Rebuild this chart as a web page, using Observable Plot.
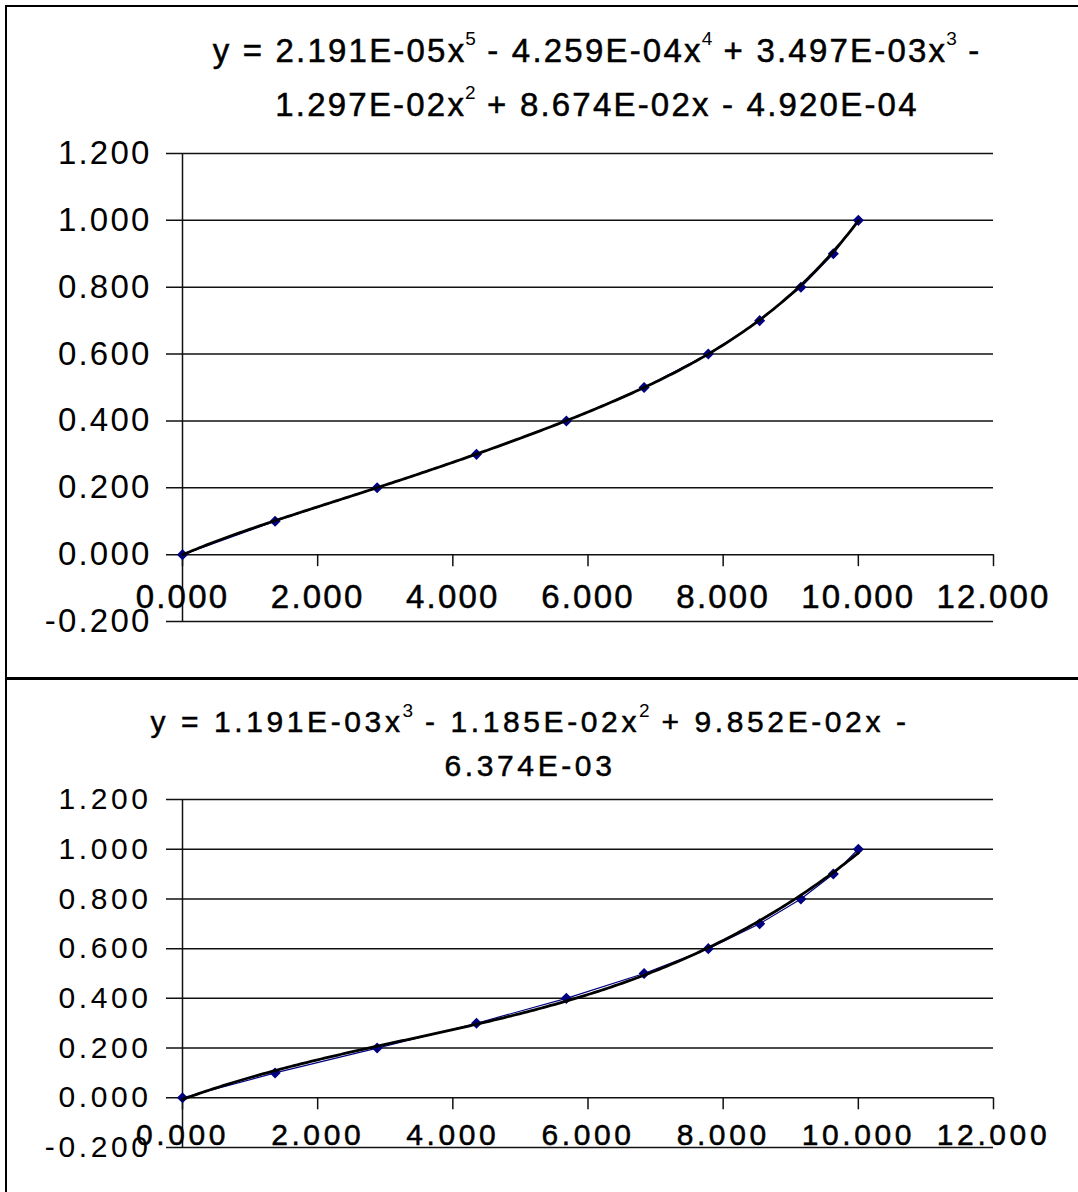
<!DOCTYPE html>
<html>
<head>
<meta charset="utf-8">
<script src="https://cdn.jsdelivr.net/npm/d3@7"></script>
<script src="https://cdn.jsdelivr.net/npm/@observablehq/plot@0.6"></script>
<style>
  html, body { margin: 0; padding: 0; background: #fff; }
  #page { position: relative; width: 1078px; height: 1192px; overflow: hidden; background: #fff; }
  .frame { position: absolute; background: #000; }
  .eq { position: absolute; text-align: center; font-family: "Liberation Sans", Arial, sans-serif; color: #000; white-space: nowrap; -webkit-text-stroke: 0.5px #000; }
  .eq sup { font-size: 19px; position: relative; vertical-align: 0; line-height: 0; letter-spacing: 0; -webkit-text-stroke: 0; margin-left: -1px; }
  .chart { position: absolute; left: 0; }
</style>
</head>
<body>
<div id="page">
  <div class="frame" style="left:5px; top:5px; width:1073px; height:2px;"></div>
  <div class="frame" style="left:5px; top:5px; width:2px; height:1187px;"></div>
  <div class="frame" style="left:5px; top:677px; width:1073px; height:3px;"></div>
  <div id="eq1" class="eq"></div>
  <div id="eq2" class="eq"></div>
  <div id="c1" class="chart" style="top:0px;"></div>
  <div id="c2" class="chart" style="top:680px;"></div>
</div>
<script>
// ---- data ----
const xValues = [0, 1.37, 2.88, 4.35, 5.68, 6.83, 7.78, 8.54, 9.15, 9.63, 10.0];
const yValues = [0, 0.1, 0.2, 0.3, 0.4, 0.5, 0.6, 0.7, 0.8, 0.9, 1.0];
const xTicks = [0, 2, 4, 6, 8, 10, 12];
const yTicks = [-0.2, 0, 0.2, 0.4, 0.6, 0.8, 1.0, 1.2];
// trendline coefficients (highest power first), as printed on the chart
const coefTop = [2.191e-05, -4.259e-04, 3.497e-03, -1.297e-02, 8.674e-02, -4.920e-04];
const coefBottom = [1.191e-03, -1.185e-02, 9.852e-02, -6.374e-03];
const eqTopLines = [
  'y = 2.191E-05x<sup style="top:-17px">5</sup> - 4.259E-04x<sup style="top:-17px">4</sup> + 3.497E-03x<sup style="top:-17px">3</sup> -',
  '1.297E-02x<sup style="top:-17px">2</sup> + 8.674E-02x - 4.920E-04'
];
const eqBottomLines = [
  'y = 1.191E-03x<sup style="top:-15px">3</sup> - 1.185E-02x<sup style="top:-15px">2</sup> + 9.852E-02x -',
  '6.374E-03'
];

const points = xValues.map((x, i) => ({x, y: yValues[i]}));
const fmt = d => d.toFixed(3);
const polyval = (c, x) => c.reduce((acc, k) => acc * x + k, 0);
const trend = c => d3.range(0, 10.0001, 0.05).map(x => ({x, y: polyval(c, x)}));

function makeChart({height, marginTop, marginBottom, coef, fontSize, letterSpacing, labelDy}) {
  return Plot.plot({
    width: 1078,
    height,
    marginLeft: 182,
    marginRight: 85,
    marginTop,
    marginBottom,
    style: {
      fontFamily: '"Liberation Sans", Arial, sans-serif',
      fontSize: fontSize + "px",
      letterSpacing: letterSpacing + "px",
      background: "transparent",
      color: "#000",
      overflow: "visible"
    },
    x: {domain: [0, 12], axis: null},
    y: {domain: [-0.2, 1.2], axis: null},
    marks: [
      Plot.ruleY(yTicks, {y: d => d, stroke: "#111", strokeWidth: 1.5, insetLeft: -16}),
      Plot.ruleX([0], {stroke: "#111", strokeWidth: 1.5}),
      Plot.ruleX(xTicks, {x: d => d, y1: () => 0, y2: () => 0, insetBottom: -12, stroke: "#111", strokeWidth: 1.5}),
      Plot.axisY(yTicks, {tickSize: 0, tickPadding: 31, tickFormat: fmt, fontSize, fill: "#000", stroke: "#000", strokeWidth: 0.5, label: null}),
      Plot.text(xTicks, {x: d => d, frameAnchor: "bottom", dy: labelDy, text: fmt, fontSize, fill: "#000", stroke: "#000", strokeWidth: 0.5}),
      Plot.line(points, {x: "x", y: "y", stroke: "#000080", strokeWidth: 1.2}),
      Plot.dot(points, {x: "x", y: "y", symbol: "diamond2", r: 5, fill: "#000080", stroke: "none"}),
      Plot.line(trend(coef), {x: "x", y: "y", stroke: "#000", strokeWidth: 2.8})
    ]
  });
}

document.getElementById("c1").appendChild(makeChart({
  height: 680, marginTop: 153, marginBottom: 59, coef: coefTop, fontSize: 33, letterSpacing: 2.2, labelDy: -14
}));
document.getElementById("c2").appendChild(makeChart({
  height: 512, marginTop: 119, marginBottom: 45, coef: coefBottom, fontSize: 30, letterSpacing: 3.6, labelDy: -3
}));

const eq1 = document.getElementById("eq1");
eq1.innerHTML = eqTopLines.join("<br>");
Object.assign(eq1.style, {left: (597 - 500) + "px", width: "1000px", top: "24px", fontSize: "33px", lineHeight: "54px", letterSpacing: "2.2px"});
const eq2 = document.getElementById("eq2");
eq2.innerHTML = eqBottomLines.join("<br>");
Object.assign(eq2.style, {left: (530 - 500) + "px", width: "1000px", top: "700px", fontSize: "30px", lineHeight: "44px", letterSpacing: "3.6px"});
</script>
</body>
</html>
